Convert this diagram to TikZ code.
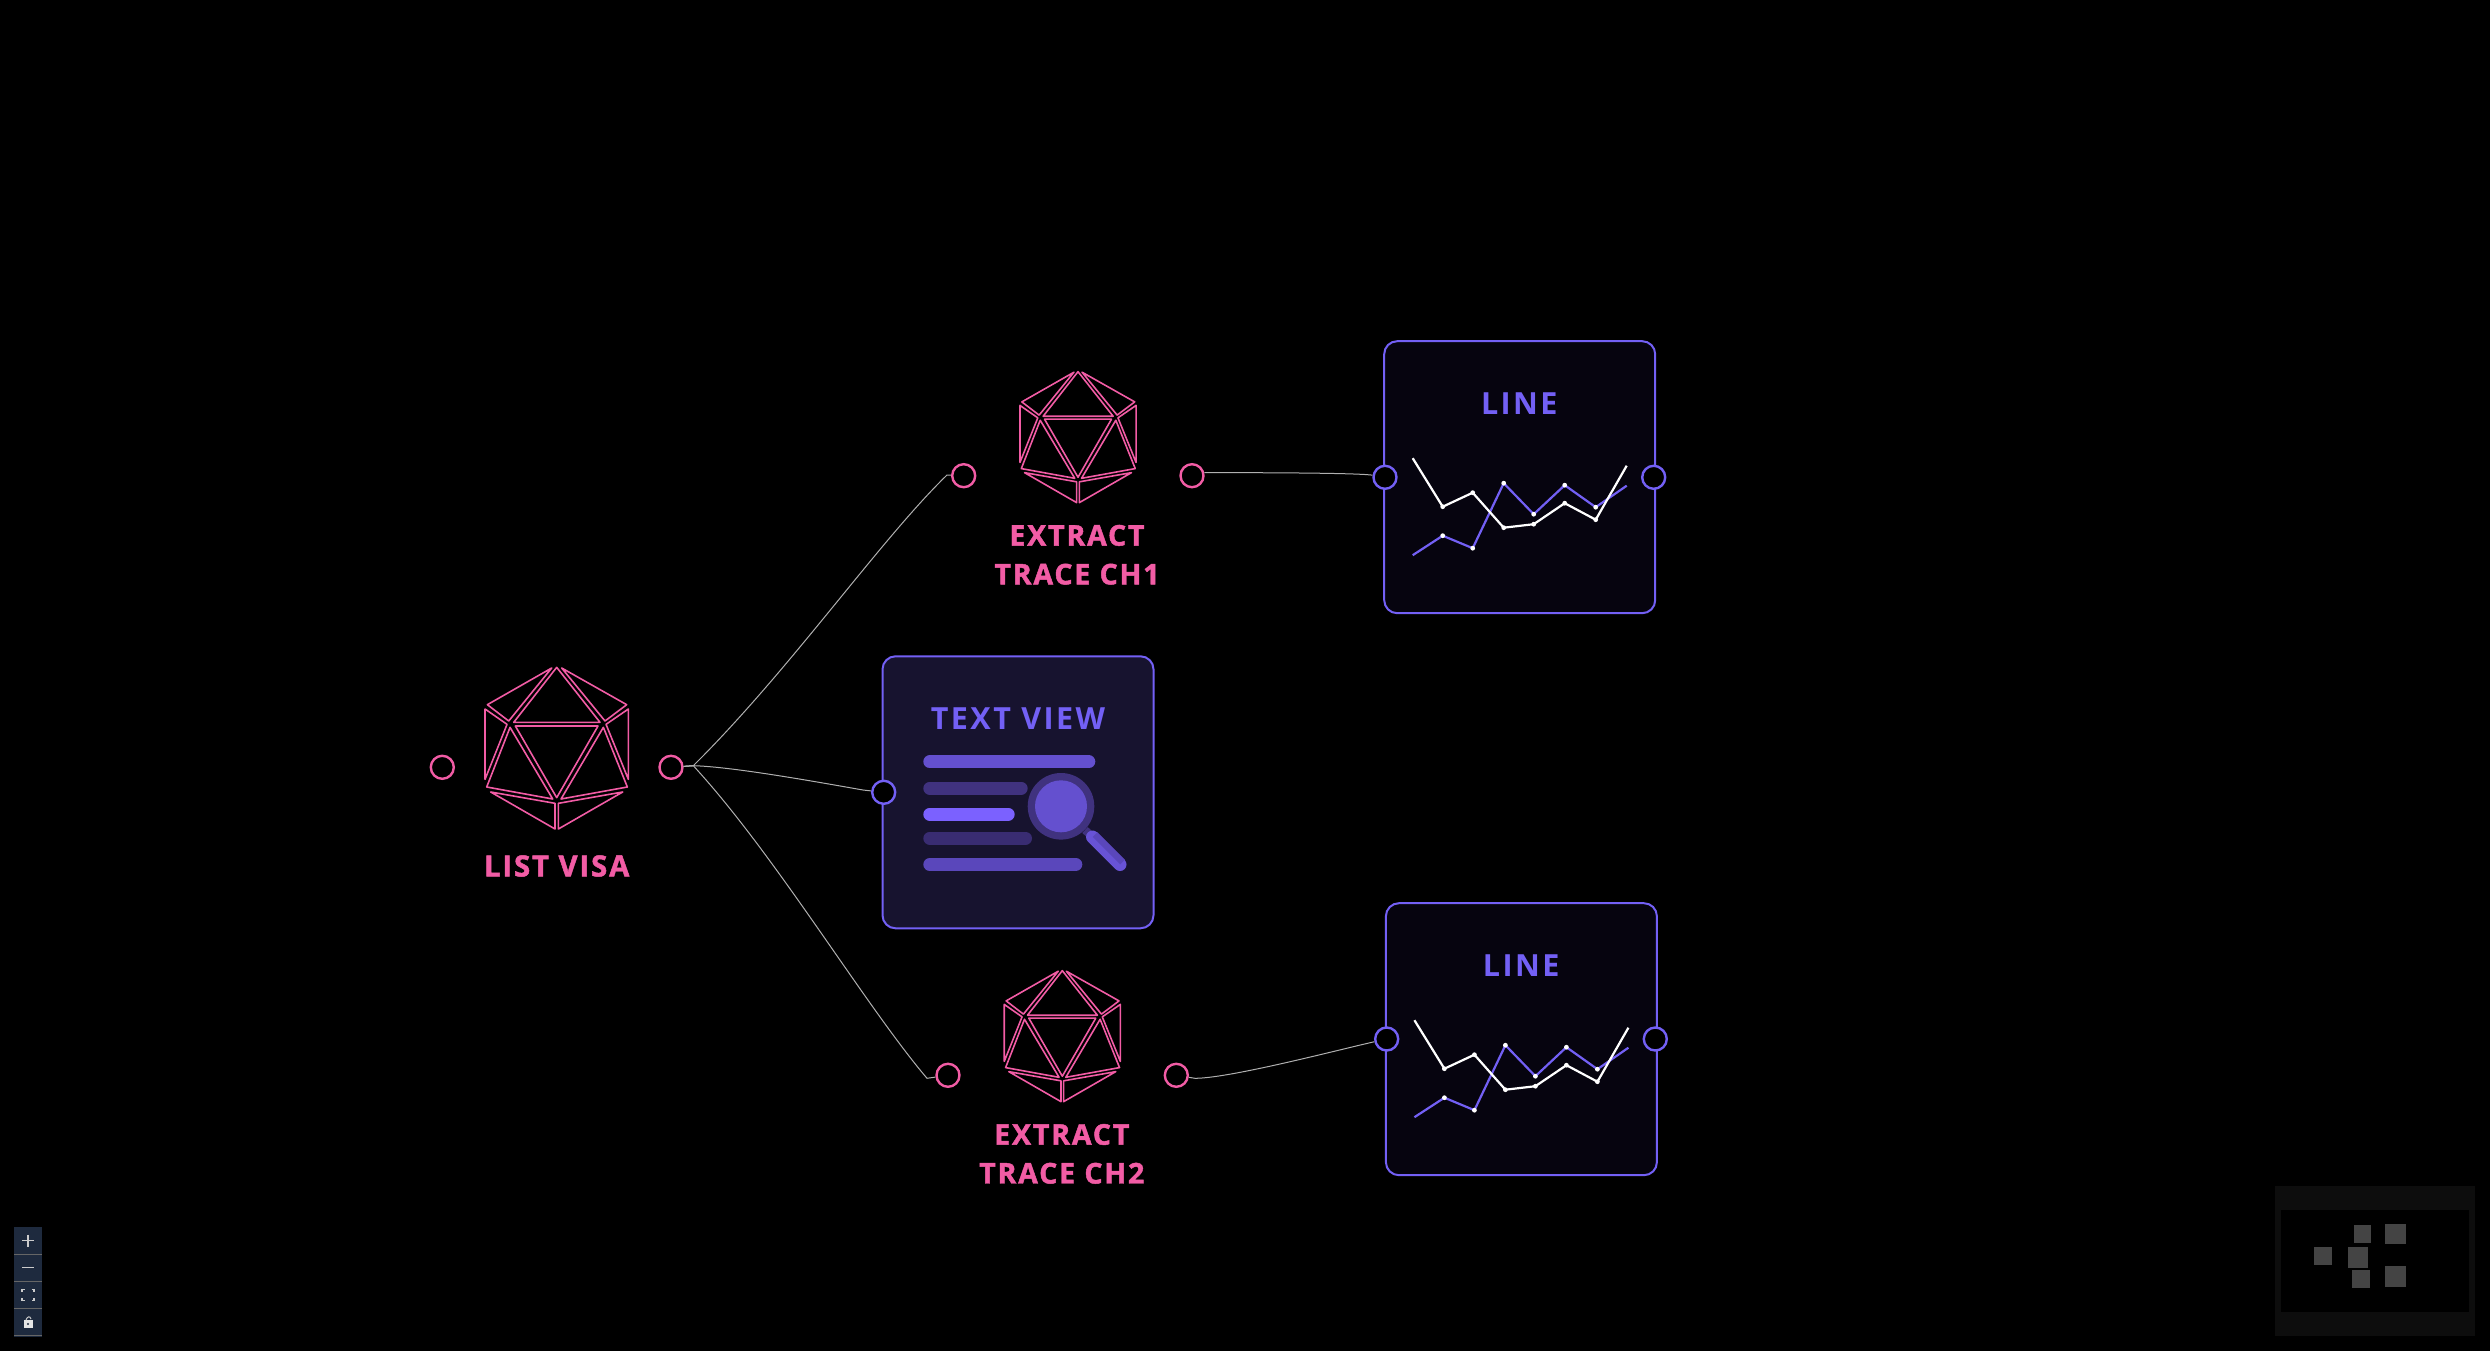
\documentclass[tikz,border=0pt]{standalone}
\usepackage{fontspec}
\setmainfont{Open Sans}
\newfontfamily\pinkfont[LetterSpace=6.5,BoldFeatures={FakeBold=1.6}]{Open Sans}
\newfontfamily\violetfont[LetterSpace=8]{Open Sans}
\definecolor{pinkline}{HTML}{F25CA5}
\definecolor{violetline}{HTML}{7360F5}
\definecolor{violetbright}{HTML}{7B61FF}
\definecolor{viewfill}{HTML}{17132F}
\definecolor{chartfill}{HTML}{06040F}
\definecolor{wiregray}{HTML}{B0B0B0}
\definecolor{barone}{HTML}{6450CF}
\definecolor{bartwo}{HTML}{40327F}
\definecolor{barfour}{HTML}{392C72}
\definecolor{barfive}{HTML}{5A47BB}
\definecolor{panelblue}{HTML}{1E2A3E}
\definecolor{paneldiv}{HTML}{666666}
\definecolor{mapframe}{HTML}{0D0D0D}
\definecolor{mapsquare}{HTML}{444444}
\tikzset{
    dice/.pic={
        \foreach \face in {
            {(-15,-240)--(-208,-130)--(-144,-81)},
            {(0,-242)--(-129,-77)--(130,-77)},
            {(15,-240)--(210,-130)--(145,-81)},
            {(-215,-117)--(-149,-71)--(-215,94)},
            {(215,-117)--(148,-71)--(215,94)},
            {(-140,-62)--(-210,117)--(-12,153)},
            {(-124,-66)--(124,-66)--(0,149)},
            {(140,-62)--(212,117)--(13,153)},
            {(-198,132)--(-5,166)--(-5,243)},
            {(198,132)--(5,166)--(5,243)}}
            {\draw[pinkline, line width=1.6pt, line join=round] \face -- cycle;}
    },
    linechart/.pic={
        \draw[violetline, line width=2.2pt] (-107,78) -- (-77,58.5) -- (-47,71) -- (-16,6) -- (14,37) -- (45,8) -- (76,30) -- (107,8.5);
        \draw[white, line width=2.2pt] (-107,-19) -- (-77,29.5) -- (-47,15.5) -- (-16,50.5) -- (14,47) -- (45,26) -- (76,42.5) -- (107,-11.5);
        \foreach \px/\py in {-77/58.5,-47/71,-16/6,14/37,45/8,76/30,-77/29.5,-47/15.5,-16/50.5,14/47,45/26,76/42.5}
            \fill[white] (\px,\py) circle (2.4);
    }
}
\begin{document}
\begin{tikzpicture}[x=1pt, y=-1pt,
        pinkport/.style={circle, draw=pinkline, fill=black, line width=2.4pt, minimum size=23pt, inner sep=0pt},
        violetport/.style={circle, draw=violetline, fill=black, line width=2.4pt, minimum size=23pt, inner sep=0pt},
        cardbox/.style={draw=violetline, line width=2pt, rounded corners=13pt, minimum width=271pt, minimum height=272pt, inner sep=0pt},
        nodelabel/.style={text=pinkline, align=center, inner sep=0pt, font=\pinkfont\bfseries\fontsize{28.5}{38.8}\selectfont},
        cardtitle/.style={text=violetline, inner sep=0pt, font=\violetfont\bfseries\fontsize{30.5}{36}\selectfont},
        wire/.style={draw=wiregray, line width=1pt},
        textbar/.style={line width=13pt, line cap=round},
        mapdot/.style={fill=mapsquare},
        panelrule/.style={draw=paneldiv, line width=1pt},
        panelsign/.style={draw=white!80!black, line width=1.5pt}]

    % Canvas
    \fill[black] (0,0) rectangle (2490,1351);
    \useasboundingbox (0,0) rectangle (2490,1351);

    % Source and extract nodes
    \pic[scale=0.3333] (listicon) at (556.7,748) {dice};
    \node[pinkport] (listin) at (442.3,767.3) {};
    \node[pinkport] (listout) at (671,767.3) {};
    \node[nodelabel, font=\pinkfont\bfseries\fontsize{29.3}{36}\selectfont] (listlabel) at (556.7,866) {LIST VISA};

    \pic[scale=0.27] (chonicon) at (1078,437) {dice};
    \node[pinkport] (chonein) at (963.7,475.7) {};
    \node[pinkport] (choneout) at (1192,475.7) {};
    \node[nodelabel] (chonelabel) at (1077,554.8) {EXTRACT\\TRACE CH1};

    \pic[scale=0.27] (chtwoicon) at (1062.3,1036) {dice};
    \node[pinkport] (chtwoin) at (948,1075.3) {};
    \node[pinkport] (chtwoout) at (1176.3,1075.3) {};
    \node[nodelabel] (chtwolabel) at (1061.8,1153.9) {EXTRACT\\TRACE CH2};

    % Text view card
    \node[cardbox, fill=viewfill] (textview) at (1018,792.3) {};
    \node[cardtitle] (viewtitle) at (1018,718.5) {TEXT VIEW};
    \draw[textbar, barone] (929.8,761.8) -- (1088.8,761.8);
    \draw[textbar, bartwo] (929.8,788.2) -- (1021.2,788.2);
    \draw[textbar, violetbright] (929.8,814.2) -- (1008.2,814.2);
    \draw[textbar, barfour] (929.8,838.2) -- (1025.5,838.2);
    \draw[textbar, barfive] (929.8,864.4) -- (1075.8,864.4);
    \draw[bartwo, line width=8pt] (1085,830) -- (1097,841);
    \draw[barone!85!violetbright, line width=13pt, line cap=round] (1092.5,837) -- (1120,864.5);
    \draw[barfive, line width=6.5pt] (1095,834.5) -- (1122.5,862);
    \fill[bartwo] (1061,806.3) circle (33.3);
    \fill[barone] (1061,806.3) circle (26);
    \node[violetport] (viewin) at (883.7,792.3) {};

    % Line charts
    \node[cardbox, fill=chartfill] (lineone) at (1519.7,477.2) {};
    \node[cardtitle] (lineonetitle) at (1519.3,403.8) {LINE};
    \pic at (lineone.center) {linechart};
    \node[violetport] (lineonein) at (1385,477.3) {};
    \node[violetport] (lineoneout) at (1653.7,477.3) {};

    \node[cardbox, fill=chartfill] (linetwo) at (1521.4,1039.2) {};
    \node[cardtitle] (linetwotitle) at (1521.2,965.5) {LINE};
    \pic at (linetwo.center) {linechart};
    \node[violetport] (linetwoin) at (1386.7,1039) {};
    \node[violetport] (linetwoout) at (1655.3,1039) {};

    % Connectors
    \coordinate (fork) at (693.3,765.7);
    \coordinate (chonebend) at (947,475);
    \coordinate (chtwobend) at (927,1078.3);
    \coordinate (viewbend) at (863,790);
    \coordinate (twokink) at (1195,1078.3);
    \draw[wire] (listout) -- (fork) .. controls +(97,-96) and +(-67,65) .. (chonebend) -- (chonein);
    \draw[wire] (listout) -- (fork) .. controls +(40,1) and +(-40,-7) .. (viewbend) -- (viewin);
    \draw[wire] (listout) -- (fork) .. controls +(82,89) and +(-62,-73) .. (chtwobend) -- (chtwoin);
    \draw[wire] (choneout) .. controls +(12,-3) and +(-30,-5) .. (lineonein);
    \draw[wire] (chtwoout) -- (twokink) .. controls +(35,0) and +(-45,10) .. (linetwoin);

    % Zoom controls
    \fill[panelblue] (14,1226.7) rectangle (41.7,1336.7);
    \foreach \ruley in {1254.3,1281.3,1308.3,1335.3}
        \draw[panelrule] (14,\ruley) -- (41.7,\ruley);
    \draw[panelsign] (22,1240.7) -- (34,1240.7) (28,1234.7) -- (28,1246.7);
    \draw[panelsign] (22,1267.7) -- (34,1267.7);
    \draw[panelsign, line width=1.2pt] (22,1292) -- (22,1289.5) -- (24.5,1289.5) (31.5,1289.5) -- (34,1289.5) -- (34,1292)
        (34,1298) -- (34,1300.5) -- (31.5,1300.5) (24.5,1300.5) -- (22,1300.5) -- (22,1298);
    \fill[white!90!black] (23.5,1320) rectangle (32.5,1328);
    \fill[panelblue] (28,1324) circle (1.2);
    \draw[white!80!black, line width=1pt] (26,1320) .. controls (27,1317) and (30,1315) .. (31,1319);

    % Minimap
    \fill[mapframe] (2275,1186) rectangle (2475,1335.7);
    \fill[black] (2281,1210) rectangle (2469,1312);
    \foreach \xa/\ya/\xb/\yb in {2354/1225/2371/1243,2385/1224/2406/1244,2314/1247/2332/1265,2348/1247/2368/1268,2352/1270/2370/1288,2385/1266/2406/1287}
        \fill[mapdot] (\xa,\ya) rectangle (\xb,\yb);
\end{tikzpicture}
\end{document}
